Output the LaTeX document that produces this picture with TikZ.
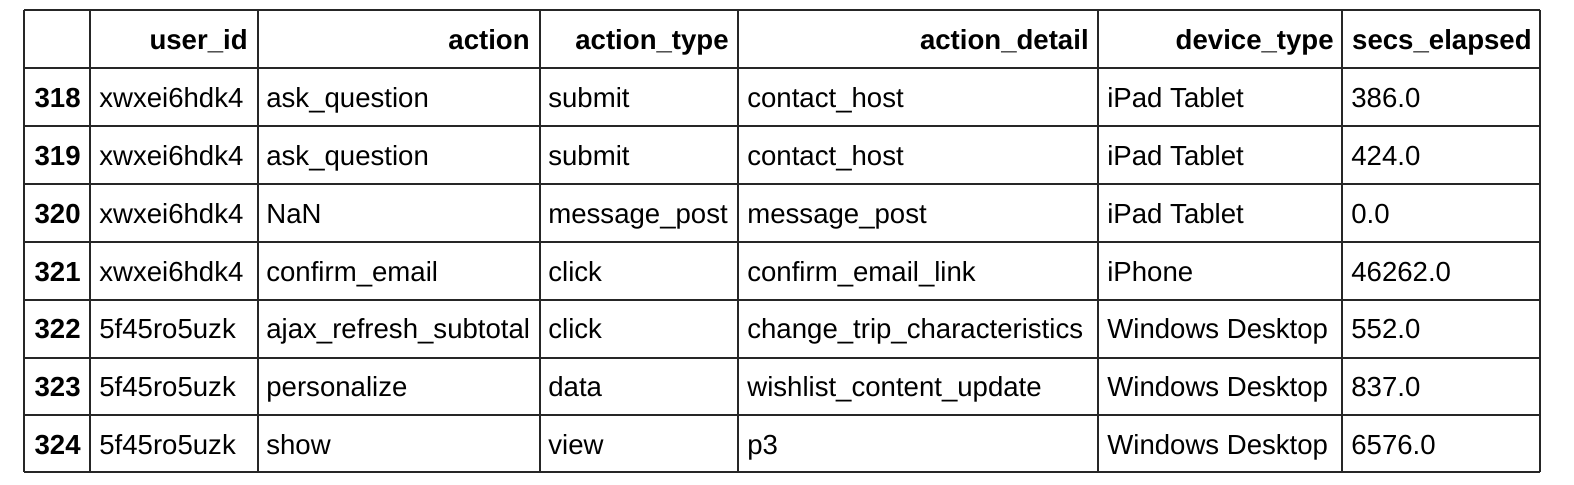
\documentclass[tikz,border=0pt]{standalone}
\usepackage{fontspec}
\setmainfont{Liberation Sans}
\begin{document}
\begin{tikzpicture}[x=0.02cm,y=-0.02cm,
    rule/.style={line width=0.8pt, draw=black!85},
    cell/.style={anchor=base west,inner sep=0pt,font=\fontsize{15.7}{18}\selectfont},
    head/.style={anchor=base east,inner sep=0pt,font=\fontsize{15.7}{18}\selectfont\bfseries}]
    \useasboundingbox (0,0) rectangle (1574,484);
    % grid
    \foreach \x in {24,90,258,540,738,1098,1342,1540} \draw[rule] (\x,10) -- (\x,472);
    \foreach \y in {10,68,126,184,242,300,358,415,472} \draw[rule] (24,\y) -- (1540,\y);
    % header
    \node[head] (h1) at (248,49) {user\_id};
    \node[head] (h2) at (530,49) {action};
    \node[head] (h3) at (729,49) {action\_type};
    \node[head] (h4) at (1089,49) {action\_detail};
    \node[head] (h5) at (1334,49) {device\_type};
    \node[head] (h6) at (1532,49) {secs\_elapsed};
    % rows
    \foreach \n/\idx/\u/\a/\t/\d/\dev/\s in {
        1/318/xwxei6hdk4/ask\_question/submit/contact\_host/iPad Tablet/386.0,
        2/319/xwxei6hdk4/ask\_question/submit/contact\_host/iPad Tablet/424.0,
        3/320/xwxei6hdk4/NaN/message\_post/message\_post/iPad Tablet/0.0,
        4/321/xwxei6hdk4/confirm\_email/click/confirm\_email\_link/iPhone/46262.0,
        5/322/5f45ro5uzk/ajax\_refresh\_subtotal/click/change\_trip\_characteristics/Windows Desktop/552.0,
        6/323/5f45ro5uzk/personalize/data/wishlist\_content\_update/Windows Desktop/837.0,
        7/324/5f45ro5uzk/show/view/p3/Windows Desktop/6576.0}{
        \node[head] (i\n) at (81,50+57.75*\n) {\idx};
        \node[cell] (u\n) at (99,50+57.75*\n) {\u};
        \node[cell] (a\n) at (266,50+57.75*\n) {\a};
        \node[cell] (t\n) at (548,50+57.75*\n) {\t};
        \node[cell] (d\n) at (747,50+57.75*\n) {\d};
        \node[cell] (v\n) at (1107,50+57.75*\n) {\dev};
        \node[cell] (s\n) at (1351,50+57.75*\n) {\s};
    }
\end{tikzpicture}
\end{document}
